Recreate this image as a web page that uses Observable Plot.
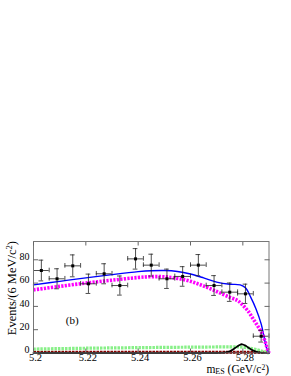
<!DOCTYPE html>
<html><head><meta charset="utf-8">
<script src="https://cdn.jsdelivr.net/npm/d3@7"></script>
<script src="https://cdn.jsdelivr.net/npm/@observablehq/plot@0.6"></script>
<style>body{margin:0;background:#fff}#chart{width:291px;height:376px}</style>
</head><body><div id="chart"></div>
<script>
// ---- data ----
const binCenters = [5.203,5.209,5.215,5.221,5.227,5.233,5.239,5.245,5.251,5.257,5.263,5.269,5.275,5.281,5.287];
const counts     = [70.8,63.7,74.8,59.4,68.0,57.9,80.8,75.4,63.7,65.7,75.4,57.9,52.2,50.8,14.4];
const errors     = [8.9,8.6,9.4,8.3,8.6,8.2,8.8,9.4,8.3,8.4,9.1,8.5,7.9,8.3,5.0];
const halfBin = 0.003;

const totalX = [5.200,5.210,5.220,5.230,5.240,5.245,5.250,5.255,5.260,5.265,5.270,5.275,5.279,5.281,5.283,5.285,5.287,5.288,5.289,5.290];
const totalY = [58.5,61.5,64.5,67.3,69.8,70.6,70.8,70.0,67.8,64.5,60.8,59.0,58.5,56.0,48.0,38.0,25.0,15.0,5.0,0];

const argusX = [5.200,5.210,5.220,5.230,5.240,5.245,5.250,5.255,5.260,5.265,5.270,5.275,5.278,5.280,5.282,5.284,5.286,5.2875,5.2885,5.2892,5.290];
const argusY = [54.2,57.2,60.0,62.5,64.8,65.5,65.4,64.0,61.5,57.5,52.8,47.8,45.0,41.0,36.0,29.0,22.0,16.0,10.0,5.0,0];

const bbX = [5.200,5.220,5.240,5.260,5.275,5.280,5.283,5.286,5.288,5.290];
const bbY = [3.4,4.1,4.6,5.0,5.2,5.0,4.0,2.5,1.0,0];

const peakingX = [5.200,5.290];
const peakingY = [0.6,0.6];

const signalX = [5.200,5.270,5.273,5.275,5.277,5.278,5.279,5.2795,5.280,5.281,5.282,5.284,5.286,5.288,5.290];
const signalY = [0,0,0.3,1.5,4.2,5.8,7.1,7.5,7.3,6.3,4.8,2.0,0.5,0.1,0];

const xTicks = [5.2,5.22,5.24,5.26,5.28];
const yTicks = [0,20,40,60,80];
const panelLabel = [{x:5.2148, y:27.5, text:"(b)"}];

// ---- tables ----
const pts = binCenters.map((x,i)=>({x, y:counts[i], e:errors[i]}));
const line = (xs, ys) => xs.map((x,i)=>({x, y:ys[i]}));
const total = line(totalX,totalY), argus = line(argusX,argusY), bb = line(bbX,bbY),
      peaking = line(peakingX,peakingY), signal = line(signalX,signalY);

const errCol = "#222";
const chart = Plot.plot({
  width: 291, height: 376,
  marginLeft: 33, marginRight: 22.5, marginTop: 241, marginBottom: 23.5,
  style: {fontFamily: "'Liberation Serif', 'Times New Roman', serif", fontSize: "10.5px", background: "#fff", color: "#000"},
  x: {domain: [5.2, 5.29]},
  y: {domain: [0, 95.7]},
  marks: [
    Plot.line(peaking, {x:"x", y:"y", stroke:"#000", strokeWidth:1}),
    Plot.line(peaking, {x:"x", y:"y", stroke:"#8b0000", strokeWidth:3.2, strokeDasharray:"2.5,1", strokeLinecap:"butt"}),
    Plot.line(bb, {x:"x", y:"y", stroke:"#88f088", strokeWidth:3.2, strokeDasharray:"2.5,1", strokeLinecap:"butt", curve:"catmull-rom"}),
    Plot.line(signal, {x:"x", y:"y", stroke:"#000", strokeWidth:1.8, curve:"catmull-rom"}),
    Plot.line(total, {x:"x", y:"y", stroke:"#0000ff", strokeWidth:1.4, curve:"catmull-rom"}),
    Plot.line(argus, {x:"x", y:"y", stroke:"#ff00ff", strokeWidth:3.6, strokeDasharray:"2.2,1.3", strokeLinecap:"butt", curve:"catmull-rom"}),
    // error bars
    Plot.ruleX(pts, {x:"x", y1:d=>d.y-d.e, y2:d=>d.y+d.e, stroke:errCol, strokeWidth:0.8}),
    Plot.ruleY(pts, {y:"y", x1:d=>d.x-halfBin, x2:d=>d.x+halfBin, stroke:errCol, strokeWidth:0.8}),
    Plot.ruleY(pts, {y:d=>d.y+d.e, x1:d=>d.x-0.0009, x2:d=>d.x+0.0009, stroke:errCol, strokeWidth:0.8}),
    Plot.ruleY(pts, {y:d=>d.y-d.e, x1:d=>d.x-0.0009, x2:d=>d.x+0.0009, stroke:errCol, strokeWidth:0.8}),
    Plot.ruleX(pts, {x:d=>d.x-halfBin, y1:d=>d.y-2, y2:d=>d.y+2, stroke:errCol, strokeWidth:0.8}),
    Plot.ruleX(pts, {x:d=>d.x+halfBin, y1:d=>d.y-2, y2:d=>d.y+2, stroke:errCol, strokeWidth:0.8}),
    Plot.dot(pts, {x:"x", y:"y", r:1.7, fill:"#000", stroke:"none", symbol:"square"}),
    Plot.text(panelLabel, {x:"x", y:"y", text:"text", fontSize:11}),
    // frame and axes
    Plot.frame({stroke:"#777", strokeWidth:1}),
    Plot.axisY(yTicks, {anchor:"left", tickSize:-5, text:null, label:null, stroke:"#666"}),
    Plot.axisY(yTicks, {anchor:"right", tickSize:-5, text:null, label:null, stroke:"#666"}),
    Plot.axisY(yTicks, {anchor:"left", tickSize:0, tickPadding:4, label:null, fontSize:10, dy:-3}),
    Plot.axisX(xTicks, {anchor:"top", tickSize:-3.5, text:null, label:null, stroke:"#666"}),
    Plot.axisX(xTicks, {anchor:"bottom", tickSize:-4, text:null, label:null, stroke:"#666"}),
    Plot.axisX(xTicks, {anchor:"bottom", tickSize:0, tickPadding:1, label:null, fontSize:10.5, dx:2, tickFormat:d=>String(d)})
  ]
});
document.getElementById("chart").appendChild(chart);

// axis titles with sub/superscripts
const svg = d3.select(chart);
const yl = svg.append("text")
  .attr("transform","translate(16,241) rotate(-90)")
  .attr("text-anchor","end")
  .attr("font-family","'Liberation Serif', serif").attr("font-size",12.5).attr("fill","#000");
yl.append("tspan").text("Events/(6 MeV/c");
yl.append("tspan").attr("dy",-4).attr("font-size",8.5).text("2");
yl.append("tspan").attr("dy",4).text(")");

const xl = svg.append("text")
  .attr("x",269).attr("y",372.5)
  .attr("text-anchor","end")
  .attr("font-family","'Liberation Serif', serif").attr("font-size",11.5).attr("fill","#000");
xl.append("tspan").text("m");
xl.append("tspan").attr("dy",1.5).attr("font-size",8).text("ES");
xl.append("tspan").attr("dy",-1.5).text(" (GeV/c");
xl.append("tspan").attr("dy",-3).attr("font-size",7.5).text("2");
xl.append("tspan").attr("dy",3).text(")");
</script>
</body></html>
